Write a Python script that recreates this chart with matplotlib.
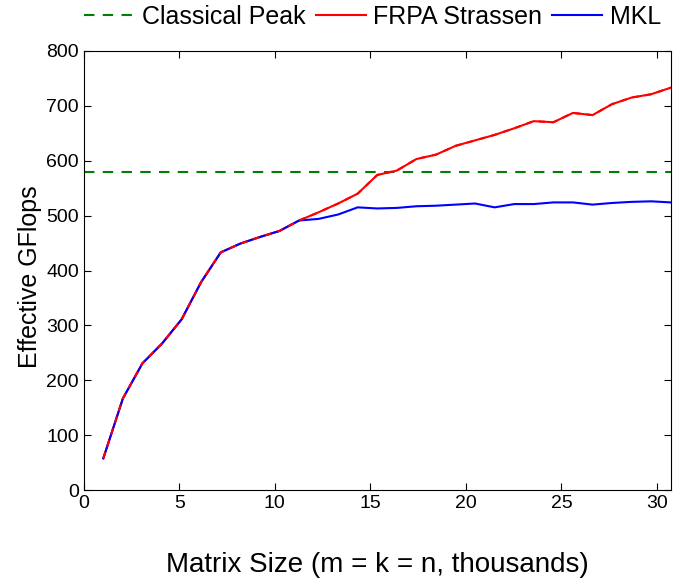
import matplotlib
matplotlib.use("Agg")
import matplotlib.pyplot as plt

plt.rcParams['font.family'] = ['Liberation Sans', 'DejaVu Sans']

# matrix sizes in thousands (multiples of 1024)
sizes = [1.024 * k for k in range(1, 31)]

frpa = [58, 167, 231, 267, 311, 379, 433, 449, 461, 472,
        491, 506, 522, 540, 574, 582, 603, 611, 627, 637,
        647, 659, 672, 670, 687, 683, 703, 715, 721, 733]

mkl = [58, 167, 231, 267, 311, 379, 433, 449, 461, 472,
       491, 494, 502, 515, 513, 514, 517, 518, 520, 522,
       515, 521, 521, 524, 524, 520, 523, 525, 526, 524]

classical_peak = 580

fig = plt.figure(figsize=(6.81, 5.78), dpi=100)
ax = fig.add_axes([0.123, 0.152, 0.862, 0.76])

ax.axhline(classical_peak, color="green", linestyle="--", dashes=(5, 4), lw=1.5,
           label="Classical Peak")
ax.plot(sizes, frpa, color="red", lw=1.5, label="FRPA Strassen")
ax.plot(sizes, mkl, color="blue", lw=1.5, label="MKL")
# red drawn again dashed on top, so the overlapping part looks mixed
ax.plot(sizes, frpa, color="red", lw=1.5, dashes=(3, 3))

ax.set_xlim(0, 30.72)
ax.set_ylim(0, 800)
ax.set_xticks(range(0, 31, 5))
ax.set_yticks(range(0, 801, 100))
ax.tick_params(direction="in", top=True, right=True, length=5, labelsize=14)

ax.set_xlabel("Matrix Size (m = k = n, thousands)", fontsize=20, labelpad=29)
ax.set_ylabel("Effective GFlops", fontsize=18, labelpad=3)
ax.yaxis.label.set_y(0.486)

ax.legend(loc="center right", bbox_to_anchor=(1.0, 1.078), ncol=3, frameon=False,
          fontsize=18, handlelength=2.0, handletextpad=0.3, columnspacing=0.4,
          borderaxespad=0.0)

fig.savefig("out.png", dpi=100)
